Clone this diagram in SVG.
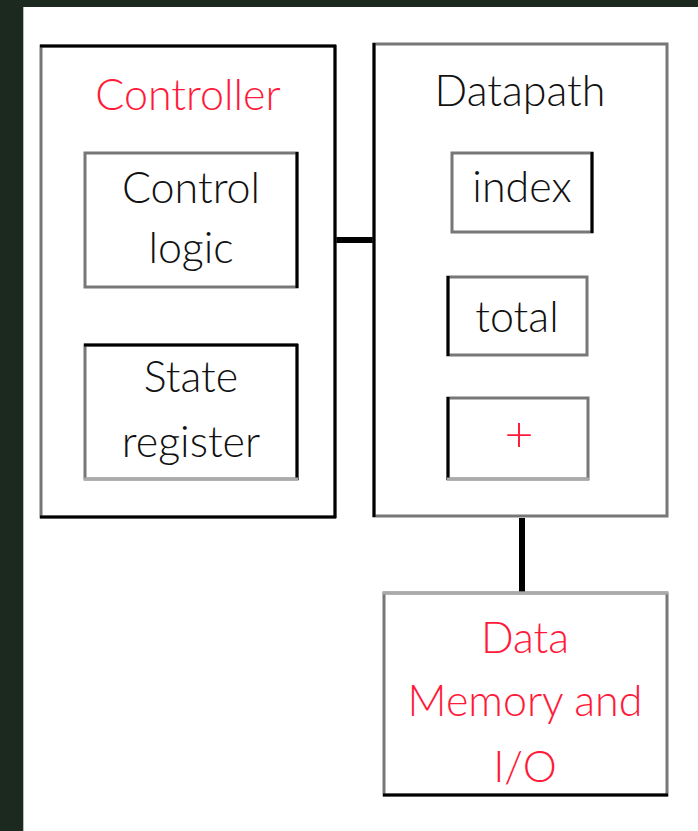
<svg xmlns="http://www.w3.org/2000/svg" width="698" height="831" viewBox="0 0 698 831">
  <style>
    .box { fill: #ffffff; stroke: #777777; stroke-width: 3; }
    .dk { stroke: #000000; stroke-width: 3; }
    .lt { stroke: #aaaaaa; stroke-width: 3; }
    .wire { stroke: #000000; fill: none; }
    text { font-family: Lato, "Open Sans", "Liberation Sans", sans-serif; font-size: 43px; font-weight: 300; text-anchor: middle; }
    .blk { fill: #111111; }
    .red { fill: #ff1a3a; }
  </style>

  <!-- page background and white canvas -->
  <rect x="0" y="0" width="698" height="831" fill="#1c291f"/>
  <rect x="23" y="7" width="675" height="824" fill="#ffffff"/>
  <line x1="23.5" y1="7" x2="23.5" y2="831" stroke="#b8bdb8" stroke-width="1"/>

  <!-- connectors -->
  <g id="connectors">
    <line class="wire" x1="191" y1="289" x2="191" y2="344" stroke-width="4"/>
    <line class="wire" x1="336" y1="240" x2="378" y2="240" stroke-width="6"/>
    <line class="wire" x1="522" y1="518" x2="522" y2="593" stroke-width="6"/>
  </g>

  <!-- Controller -->
  <g id="controller">
    <rect class="box" x="41" y="46" width="294" height="471"/>
    <line class="dk" x1="40" y1="46" x2="336" y2="46"/>
    <line class="dk" x1="335" y1="45" x2="335" y2="518"/>
    <line class="dk" x1="40" y1="517" x2="336" y2="517"/>
    <text class="red" x="188" y="110">Controller</text>
  </g>

  <g id="control-logic">
    <rect class="box" x="85" y="153" width="212" height="134"/>
    <line class="dk" x1="297" y1="152" x2="297" y2="288"/>
    <text class="blk" x="191" y="203">Control</text>
    <text class="blk" x="191" y="263">logic</text>
  </g>

  <g id="state-register">
    <rect class="box" x="85" y="345" width="212" height="134"/>
    <line class="dk" x1="84" y1="345" x2="298" y2="345"/>
    <line class="dk" x1="297" y1="344" x2="297" y2="480"/>
    <line class="lt" x1="84" y1="479" x2="298" y2="479"/>
    <text class="blk" x="191" y="392">State</text>
    <text class="blk" x="191" y="457">register</text>
  </g>

  <!-- Datapath -->
  <g id="datapath">
    <rect class="box" x="374" y="44" width="293" height="472"/>
    <line class="dk" x1="374" y1="43" x2="374" y2="517"/>
    <text class="blk" x="520" y="106">Datapath</text>
  </g>

  <g id="index">
    <rect class="box" x="452" y="153" width="140" height="79"/>
    <line class="dk" x1="592" y1="152" x2="592" y2="233"/>
    <text class="blk" x="522" y="202">index</text>
  </g>

  <g id="total">
    <rect class="box" x="448" y="277" width="139" height="78"/>
    <line class="dk" x1="448" y1="276" x2="448" y2="356"/>
    <text class="blk" x="517" y="332">total</text>
  </g>

  <g id="adder">
    <rect class="box" x="448" y="398" width="140" height="81"/>
    <line class="dk" x1="448" y1="397" x2="448" y2="480"/>
    <line class="lt" x1="447" y1="479" x2="589" y2="479"/>
    <text class="red" x="519" y="452" style="font-size:50px">+</text>
  </g>

  <!-- Data memory and I/O -->
  <g id="data-memory">
    <rect class="box" x="384" y="593" width="283" height="202"/>
    <line class="lt" x1="383" y1="593" x2="668" y2="593"/>
    <line class="dk" x1="383" y1="795" x2="668" y2="795"/>
    <text class="red" x="525" y="653">Data</text>
    <text class="red" x="525" y="716">Memory and</text>
    <text class="red" x="525" y="782">I/O</text>
  </g>
</svg>
